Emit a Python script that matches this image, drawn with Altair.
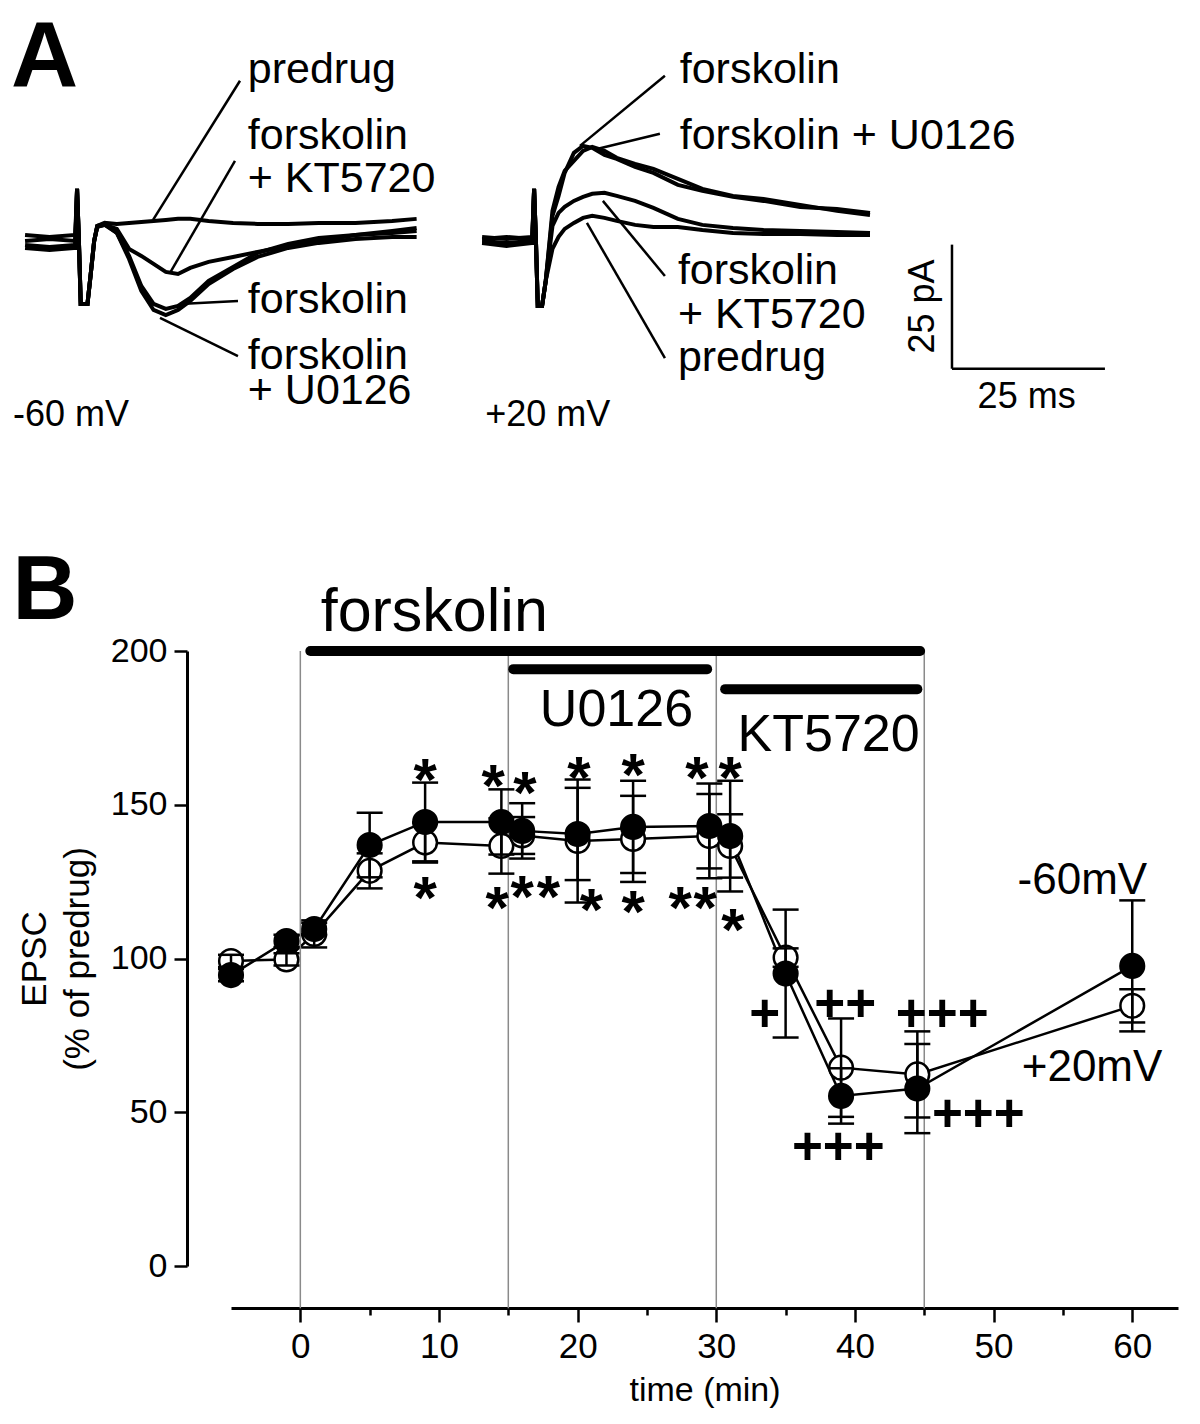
import altair as alt
import pandas as pd

FONT = "Liberation Sans"

# ================= Panel A : example EPSC traces =================
# left set (-60 mV), time in ms from start of sweep, current in pA
LEFT_T = [0, 4, 8.2, 8.5, 8.8, 9.1, 10.2, 10.7, 11.3, 11.8, 13, 15, 17, 19, 21, 23, 25, 27,
          30, 34, 38, 43, 48, 54, 60, 64]
L_PREDRUG = [1.21, 0.81, 1.21, 10.48, 0, -12.70, -12.70, -7.06, 0, 3.02, 3.63, 3.43, 3.63, 3.83,
             4.03, 4.23, 4.44, 4.44, 4.03, 3.63, 3.43, 3.43, 3.63, 3.63, 4.03, 4.44]
L_KT5720 = [0, 0.40, 0, 10.48, 0, -12.70, -12.70, -7.06, 0, 2.82, 3.23, 2.42, -1.61, -3.02, -4.64,
            -6.25, -6.65, -5.44, -4.23, -3.23, -2.22, -1.01, 0, 1.21, 2.02, 2.62]
L_FSK = [-0.81, -1.21, -0.81, 10.48, 0, -12.70, -12.70, -7.06, 0, 3.02, 3.43, 1.61, -3.02, -9.07,
         -12.70, -13.71, -13.10, -11.49, -8.06, -5.24, -2.42, -0.60, 0.60, 1.21, 1.61, 2.02]
L_U0126 = [-1.41, -1.81, -1.41, 10.48, 0, -12.70, -12.70, -7.06, 0, 2.82, 3.23, 1.61, -3.63, -10.08,
           -13.91, -14.92, -13.91, -12.10, -8.67, -5.65, -3.23, -1.41, -0.40, 0.40, 0.81, 0.81]

# right set (+20 mV)
RIGHT_T = [0, 4, 8.2, 8.5, 8.8, 9.1, 9.8, 10.4, 11.5, 12.5, 13.5, 15, 16.5, 18, 20, 22, 25, 28,
           32, 36, 41, 46, 52, 58, 63.4]
R_PREDRUG = [-0.40, -1.01, -0.40, 10.48, 0, -13.10, -13.10, -8.06, -1.61, 0.81, 2.42, 3.63, 4.64,
             5.04, 4.64, 4.03, 3.23, 2.82, 2.82, 2.22, 1.61, 1.41, 1.41, 1.21, 1.21]
R_KT5720 = [0.40, 0.81, 0.40, 10.48, 0, -13.10, -13.10, -8.06, 3.02, 5.65, 6.85, 8.06, 8.87, 9.48,
            9.68, 9.07, 8.06, 6.65, 4.44, 3.23, 2.62, 2.22, 2.02, 1.81, 1.61]
R_FSK = [0, -0.40, 0, 10.48, 0, -13.10, -13.10, -8.06, 5.04, 9.07, 13.71, 17.74, 19.15, 18.75,
         17.34, 16.53, 14.92, 13.71, 11.29, 10.08, 8.87, 8.06, 6.85, 6.45, 5.65]
R_U0126 = [0.81, 0.40, 0.81, 10.48, 0, -13.10, -13.10, -8.06, 6.05, 10.89, 14.11, 16.13, 18.15,
           18.95, 18.15, 16.73, 15.52, 14.52, 12.50, 10.48, 9.07, 8.47, 7.26, 6.05, 5.24]

RIGHT_OFFSET_MS = 74.7   # horizontal gap between the two sets of sweeps

# trace labels (text, x ms, y pA baseline)
A_LABELS = ["predrug", "forskolin", "+ KT5720", "forskolin", "forskolin", "+ U0126",
            "forskolin", "forskolin + U0126", "forskolin", "+ KT5720", "predrug"]
A_LABEL_X = [36.4, 36.4, 36.4, 36.4, 36.4, 36.4, 107.0, 107.0, 106.7, 106.7, 106.7]
A_LABEL_Y = [31.85, 18.5, 9.9, -14.5, -25.8, -32.9, 31.85, 18.55, -8.67, -17.54, -26.2]

# leader lines (x1, y1, x2, y2)
LEAD_X1 = [35.13, 34.31, 25.33, 22.06, 104.58, 103.76, 94.44, 91.83]
LEAD_Y1 = [32.26, 16.13, -12.70, -15.52, 33.27, 21.57, 8.06, 3.63]
LEAD_X2 = [20.92, 23.69, 34.80, 34.80, 90.69, 93.63, 104.58, 104.58]
LEAD_Y2 = [4.23, -6.45, -12.10, -23.19, 19.15, 18.55, -7.06, -23.59]

# holding potentials and scale bar
VH_TEXT = ["-60 mV", "+20 mV"]
VH_X = [-1.96, 75.2]
VH_Y = [-37.3, -37.3]
SCALE_X0, SCALE_Y0 = 151.5, -25.75   # corner of the 25 ms / 25 pA bar
SCALE_LEN_MS, SCALE_LEN_PA = 25, 25

# ================= Panel B : time course =================
TIME_MIN = [-5, -1, 1, 5, 9, 14.5, 16, 20, 24, 29.5, 31, 35, 39, 44.5, 60]
EPSC_M60 = [94.6, 105.7, 109.6, 136.9, 144.4, 144.4, 141.5, 140.5, 142.8, 143.1, 139.8, 95.1,
            55.3, 57.7, 97.6]
SEM_M60 = [2, 2, 2, 10.5, 12.8, 10.6, 9, 15, 15, 13.8, 18, 20.8, 9, 14.5, 21.3]
EPSC_P20 = [99.2, 99.7, 108.0, 128.5, 137.7, 136.6, 140.0, 138.2, 138.9, 139.8, 136.6, 100.3,
            64.5, 62.3, 84.6]
SEM_P20 = [2, 2, 4.4, 5.7, 6.5, 9, 6, 20, 14, 13.7, 10.3, 3, 16, 14, 5.4]

EPOCH_LINES = [0, 15, 30, 45]
DRUG_NAMES = ["forskolin", "U0126", "KT5720"]
DRUG_START = [0.72, 15.36, 30.64]
DRUG_END = [44.7, 29.34, 44.5]
DRUG_LEVEL = [200, 194.1, 187.6]
DRUG_LABEL_X = [9.66, 22.8, 38.1]
DRUG_LABEL_Y = [206.5, 175.6, 167.5]
DRUG_LABEL_SIZE = [61, 52, 52]

STAR_X = [9.0, 13.9, 16.2, 20.1, 24.0, 28.6, 31.0,
          9.0, 14.2, 16.0, 17.9, 21.0, 24.0, 27.4, 29.2, 31.2]
STAR_Y = [162.6, 160.5, 158.4, 163.2, 164.2, 163.2, 163.2,
          124.1, 120.9, 124.7, 124.7, 120.3, 119.8, 120.9, 120.9, 113.8]
PLUS_TEXT = ["+", "++", "+++", "+++", "+++"]
PLUS_X = [33.5, 39.3, 46.3, 38.8, 48.9]
PLUS_Y = [82.4, 85.6, 82.4, 39.0, 49.9]

SERIES_LABEL = ["-60mV", "+20mV"]
SERIES_LABEL_X = [56.4, 57.1]
SERIES_LABEL_Y = [125.1, 64.5]

# ---------------------------------------------------------------
rows = []
for name, vals in [("predrug", L_PREDRUG), ("KT", L_KT5720), ("fsk", L_FSK), ("U", L_U0126)]:
    for i, (t, v) in enumerate(zip(LEFT_T, vals)):
        rows.append({"trace": "L_" + name, "t": t, "I": v, "i": i})
for name, vals in [("predrug", R_PREDRUG), ("KT", R_KT5720), ("fsk", R_FSK), ("U", R_U0126)]:
    for i, (t, v) in enumerate(zip(RIGHT_T, vals)):
        rows.append({"trace": "R_" + name, "t": t + RIGHT_OFFSET_MS, "I": v, "i": i})
traces = pd.DataFrame(rows)

# panel A plot area is aligned with panel B's plot area; earlier sweeps extend to its left
XA = alt.Scale(domain=[33.66, 177], nice=False, zero=False)
YA = alt.Scale(domain=[-39.5, 44.5], nice=False, zero=False)
WA, HA = 877, 417


def xa(f):
    return alt.X(f, type="quantitative", scale=XA, axis=None)


def ya(f):
    return alt.Y(f, type="quantitative", scale=YA, axis=None)


traceL = alt.Chart(traces).mark_line(color="black", strokeWidth=4).encode(
    x=xa("t"), y=ya("I"), detail="trace:N", order="i:Q")

lead = alt.Chart(pd.DataFrame({"x1": LEAD_X1, "y1": LEAD_Y1, "x2": LEAD_X2, "y2": LEAD_Y2})
                 ).mark_rule(color="black", strokeWidth=2.5).encode(
    x=xa("x1"), y=ya("y1"), x2="x2", y2="y2")

alabels = alt.Chart(pd.DataFrame({"txt": A_LABELS, "x": A_LABEL_X, "y": A_LABEL_Y})).mark_text(
    font=FONT, fontSize=43, align="left", baseline="alphabetic", color="black").encode(
    x=xa("x"), y=ya("y"), text="txt:N")

vh = alt.Chart(pd.DataFrame({"txt": VH_TEXT, "x": VH_X, "y": VH_Y})).mark_text(
    font=FONT, fontSize=36, align="left", baseline="alphabetic", color="black").encode(
    x=xa("x"), y=ya("y"), text="txt:N")

sb = pd.DataFrame({"x1": [SCALE_X0, SCALE_X0], "x2": [SCALE_X0, SCALE_X0 + SCALE_LEN_MS],
                   "y1": [SCALE_Y0 + SCALE_LEN_PA, SCALE_Y0], "y2": [SCALE_Y0, SCALE_Y0]})
scalebar = alt.Chart(sb).mark_rule(color="black", strokeWidth=2.5).encode(
    x=xa("x1"), x2="x2", y=ya("y1"), y2="y2")
sb_ms = alt.Chart(pd.DataFrame({"txt": ["25 ms"], "x": [163.7], "y": [-33.7]})).mark_text(
    font=FONT, fontSize=36, align="center", baseline="alphabetic", color="black").encode(
    x=xa("x"), y=ya("y"), text="txt:N")
sb_pa = alt.Chart(pd.DataFrame({"txt": ["25 pA"], "x": [148.5], "y": [-13.2]})).mark_text(
    font=FONT, fontSize=36, align="center", baseline="alphabetic", angle=270, color="black").encode(
    x=xa("x"), y=ya("y"), text="txt:N")
letA = alt.Chart(pd.DataFrame({"txt": ["A"], "x": [-2.29], "y": [31.25]})).mark_text(
    font=FONT, fontSize=93, fontWeight="bold", align="left", baseline="alphabetic",
    color="black").encode(x=xa("x"), y=ya("y"), text="txt:N")

panelA = alt.layer(traceL, lead, alabels, vh, scalebar, sb_ms, sb_pa, letA).properties(
    width=WA, height=HA)

# ---------------------------------------------------------------
XB = alt.Scale(domain=[-5, 63.3], nice=False, zero=False)
YB = alt.Scale(domain=[0, 200], nice=False, zero=False)
WB, HB = 947, 615

xaxis = alt.Axis(values=[0, 5, 10, 15, 20, 25, 30, 35, 40, 45, 50, 55, 60], orient="bottom",
                 offset=42,
                 tickSize={"condition": {"test": "datum.value % 10 === 0", "value": 14}, "value": 7},
                 tickWidth=2.5, tickColor="black", domainWidth=3, domainColor="black",
                 labelExpr="datum.value % 10 === 0 ? datum.label : ''",
                 labelFont=FONT, labelFontSize=35, labelColor="black", labelPadding=7,
                 labelFlush=False, title="time (min)", titleFont=FONT, titleFontSize=34,
                 titleFontWeight="normal", titleColor="black", titlePadding=9, grid=False)
yaxis = alt.Axis(values=[0, 50, 100, 150, 200], orient="left", offset=44, tickSize=13,
                 tickWidth=2.5, tickColor="black", domainWidth=3, domainColor="black",
                 labelFont=FONT, labelFontSize=34, labelColor="black", labelPadding=7,
                 title=["EPSC", "(% of predrug)"], titleFont=FONT, titleFontSize=35,
                 titleFontWeight="normal", titleColor="black", titlePadding=15,
                 titleLineHeight=43, grid=False)


def xb(f):
    return alt.X(f, type="quantitative", scale=XB, axis=xaxis)


def yb(f):
    return alt.Y(f, type="quantitative", scale=YB, axis=yaxis)


rows = []
for t, m, s in zip(TIME_MIN, EPSC_M60, SEM_M60):
    rows.append({"series": "-60 mV", "t": t, "m": m, "lo": m - s, "hi": m + s})
for t, m, s in zip(TIME_MIN, EPSC_P20, SEM_P20):
    rows.append({"series": "+20 mV", "t": t, "m": m, "lo": m - s, "hi": m + s})
ts = pd.DataFrame(rows)
neg = ts[ts.series == "-60 mV"]
pos = ts[ts.series == "+20 mV"]

lines = alt.Chart(ts).mark_line(color="black", strokeWidth=2.5).encode(
    x=xb("t"), y=yb("m"), detail="series:N")

epoch = alt.Chart(pd.DataFrame({"t": EPOCH_LINES, "top": [200] * 4, "bot": [-13.7] * 4})
                  ).mark_rule(color="#8a8a8a", strokeWidth=1.5).encode(
    x=xb("t"), y=yb("top"), y2="bot")

drugs = pd.DataFrame({"name": DRUG_NAMES, "s": DRUG_START, "e": DRUG_END, "lvl": DRUG_LEVEL})
drugbars = alt.Chart(drugs).mark_rule(color="black", strokeWidth=10, strokeCap="round").encode(
    x=xb("s"), x2="e", y=yb("lvl"))

drug_label_layers = []
for n, x, y, s in zip(DRUG_NAMES, DRUG_LABEL_X, DRUG_LABEL_Y, DRUG_LABEL_SIZE):
    drug_label_layers.append(
        alt.Chart(pd.DataFrame({"txt": [n], "x": [x], "y": [y]})).mark_text(
            font=FONT, fontSize=s, align="center", baseline="alphabetic", color="black").encode(
            x=xb("x"), y=yb("y"), text="txt:N"))

open_pts = alt.Chart(pos).mark_point(shape="circle", filled=True, fill="white", stroke="black",
                                     strokeWidth=2.5, size=560, opacity=1).encode(
    x=xb("t"), y=yb("m"))
err = alt.Chart(ts).mark_rule(color="black", strokeWidth=2.5).encode(
    x=xb("t"), y=yb("lo"), y2="hi")
cap_lo = alt.Chart(ts).mark_tick(color="black", orient="horizontal", size=26, thickness=2.5,
                                 opacity=1).encode(x=xb("t"), y=yb("lo"))
cap_hi = alt.Chart(ts).mark_tick(color="black", orient="horizontal", size=26, thickness=2.5,
                                 opacity=1).encode(x=xb("t"), y=yb("hi"))
filled_pts = alt.Chart(neg).mark_point(shape="circle", filled=True, fill="black", stroke="black",
                                       strokeWidth=2.5, size=560, opacity=1).encode(
    x=xb("t"), y=yb("m"))

stars = alt.Chart(pd.DataFrame({"x": STAR_X, "y": STAR_Y, "txt": ["*"] * len(STAR_X)})).mark_text(
    font=FONT, fontSize=60, fontWeight="bold", align="center", baseline="middle", dy=16,
    color="black").encode(x=xb("x"), y=yb("y"), text="txt:N")
pluses = alt.Chart(pd.DataFrame({"x": PLUS_X, "y": PLUS_Y, "txt": PLUS_TEXT})).mark_text(
    font=FONT, fontSize=53, fontWeight="bold", align="center", baseline="middle", dy=2,
    color="black").encode(x=xb("x"), y=yb("y"), text="txt:N")
slabels = alt.Chart(pd.DataFrame({"x": SERIES_LABEL_X, "y": SERIES_LABEL_Y, "txt": SERIES_LABEL})
                    ).mark_text(font=FONT, fontSize=44, align="center", baseline="middle",
                                color="black").encode(x=xb("x"), y=yb("y"), text="txt:N")
letB = alt.Chart(pd.DataFrame({"txt": ["B"], "x": [-20.76], "y": [210.4]})).mark_text(
    font=FONT, fontSize=90, fontWeight="bold", align="left", baseline="alphabetic",
    color="black").encode(x=xb("x"), y=yb("y"), text="txt:N")

panelB = alt.layer(lines, epoch, drugbars, *drug_label_layers, open_pts, err, cap_lo, cap_hi,
                   filled_pts, stars, pluses, slabels, letB).properties(width=WB, height=HB)

chart = alt.vconcat(panelA, panelB, spacing=110).properties(
    padding={"left": 3, "top": 3, "right": 3, "bottom": 3}
).configure_view(stroke=None).configure_axis(grid=False)

chart.save("out.html", embed_options={"renderer": "svg", "actions": False})
